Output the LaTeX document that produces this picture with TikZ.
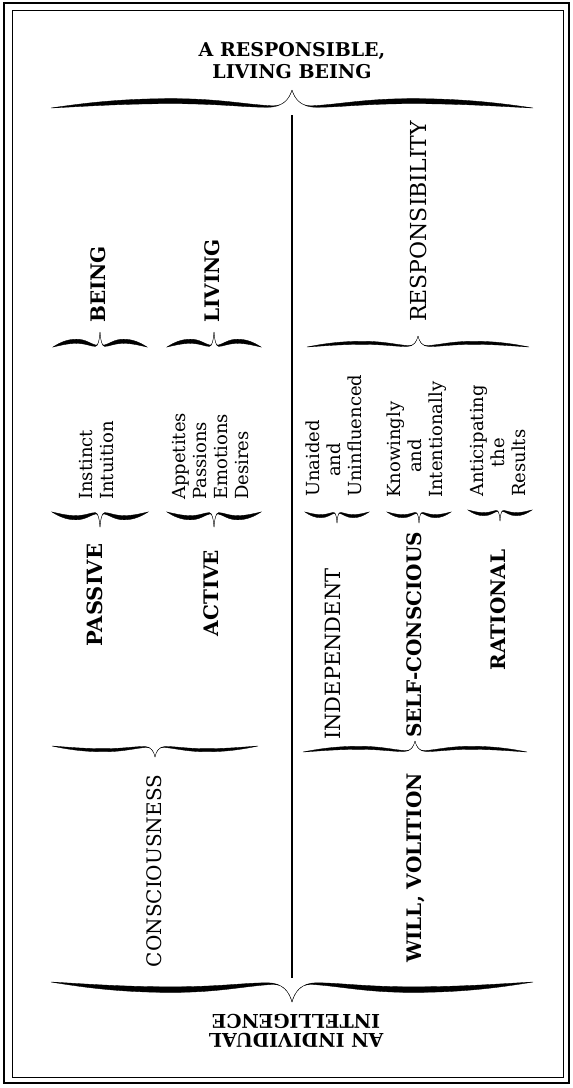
\documentclass[tikz,border=0pt]{standalone}
\usepackage{fontspec}
\setmainfont{DejaVu Serif}
\usepackage{tikz}
\tikzset{heading/.style={font=\fontsize{19}{22}\selectfont\bfseries,align=center,inner sep=0pt}}
\tikzset{boldcaps/.style={font=\fontsize{20}{24}\selectfont\bfseries,inner sep=0pt,rotate=90}}
\tikzset{lightcaps/.style={font=\fontsize{21}{24}\selectfont,inner sep=0pt,rotate=90}}
\tikzset{words/.style={font=\fontsize{18}{21}\selectfont,inner sep=0pt,align=left,rotate=90,anchor=west}}
\tikzset{frame/.style={draw,line width=2pt}}
\tikzset{inframe/.style={draw,line width=0.9pt}}
\tikzset{divider/.style={draw,line width=1.3pt}}
% #1 centre, #2 half width, #3 depth of the tip (negative: tip up)
\newcommand{\curly}[3]{%
  \begin{scope}[shift={(#1)},xscale=#2,yscale=#3]
    \foreach \s in {1,-1}
      \filldraw[xscale=\s,line width=0.35pt]
        (-1,0) .. controls (-0.85,0.3) and (-0.7,0.52) .. (-0.5,0.52)
        .. controls (-0.3,0.52) and (-0.2,0.2) .. (-0.08,0.12)
        .. controls (-0.03,0.1) and (-0.01,0.6) .. (0,1)
        .. controls (-0.01,0.5) and (-0.04,0.04) .. (-0.1,0.04)
        .. controls (-0.2,0.04) and (-0.3,0.24) .. (-0.5,0.24)
        .. controls (-0.7,0.24) and (-0.85,0.1) .. (-1,0) -- cycle;
  \end{scope}}

\begin{document}
\begin{tikzpicture}[x=1pt,y=-1pt]
  \useasboundingbox (0,0) rectangle (573,1088);
  \draw[frame] (4,3) rectangle (569,1083);
  \draw[inframe] (12,10) rectangle (563,1077);

  \node[heading] (whole) at (292,61) {A RESPONSIBLE,\\LIVING BEING};
  \curly{292,108}{241}{-18}

  \coordinate (divtop) at (292,115);
  \coordinate (divbot) at (292,978);
  \path[divider] (divtop) -- (divbot);

  % left half
  \node[boldcaps,anchor=west] (being) at (98,323) {BEING};
  \node[boldcaps,anchor=west] (living) at (212,323) {LIVING};
  \curly{100,347}{47}{-15}
  \curly{214,347}{47}{-15}
  \node[words] (instinct) at (97,500) {Instinct\\Intuition};
  \node[words] (appetites) at (211,500) {Appetites\\Passions\\Emotions\\Desires};
  \curly{100,512}{48}{15}
  \curly{214,512}{47}{15}
  \node[boldcaps,font=\fontsize{21}{24}\selectfont\bfseries] (passive) at (95,595) {PASSIVE};
  \node[boldcaps] (active) at (211,593) {ACTIVE};
  \curly{155,746}{103}{11}
  \node[lightcaps,font=\fontsize{20}{24}\selectfont] (conscious) at (154,871) {CONSCIOUSNESS};

  % right half
  \node[lightcaps,anchor=west,font=\fontsize{22}{24}\selectfont] (respons) at (418,322) {RESPONSIBILITY};
  \curly{418,347}{111}{-11}
  \node[words] (unaided) at (334,497) {Unaided\\\hspace*{20pt}and\\Uninfluenced};
  \node[words] (knowingly) at (417,498) {Knowingly\\\hspace*{25pt}and\\Intentionally};
  \node[words] (anticip) at (498,497) {Anticipating\\\hspace*{29pt}the\\Results};
  \curly{337,512}{32}{11}
  \curly{419,512}{32}{11}
  \curly{500,510}{32}{11}
  \node[lightcaps,anchor=west] (independent) at (333,740) {INDEPENDENT};
  \node[boldcaps,anchor=west] (selfcons) at (414,738) {SELF-CONSCIOUS};
  \node[boldcaps] (rational) at (498,610) {RATIONAL};
  \curly{415,752}{112}{-11}
  \node[boldcaps] (will) at (416,868) {WILL, VOLITION};

  \curly{292,982}{241}{20}
  \node[heading,rotate=180] (intel) at (296,1031) {AN INDIVIDUAL\\[-3pt]INTELLIGENCE};
\end{tikzpicture}
\end{document}
